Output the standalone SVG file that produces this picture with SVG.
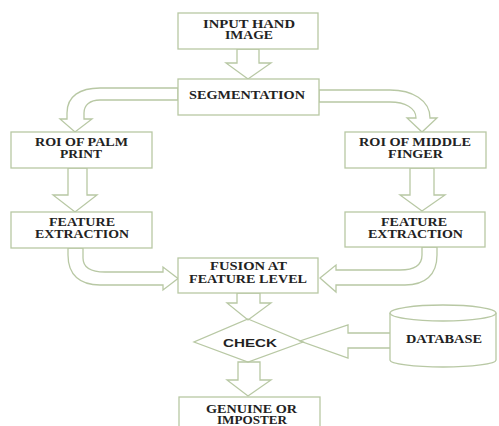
<svg xmlns="http://www.w3.org/2000/svg" width="499" height="426" viewBox="0 0 499 426">
<style>
.b{fill:#fff;stroke:#b8c8a4;stroke-width:1.3}
.a{fill:#fff;stroke:#b8c8a4;stroke-width:1.3;stroke-linejoin:miter}
.n{fill:none;stroke:#b8c8a4;stroke-width:1.3}
.t{font-family:"Liberation Serif","Times New Roman",serif;font-weight:bold;font-size:11.5px;fill:#222}
.s{font-family:"Liberation Sans",Arial,sans-serif;font-weight:bold;font-size:11px;fill:#222}
</style>
<rect width="499" height="426" fill="#fff"/>
<g id="connectors">
<polygon class="a" points="237,49 259,49 259,63 271,63 248,79 226,63 237,63"/>
<path class="a" d="M178,88 L100,88 C80,88 67,96 67,113 L67,119 L60,119 L75,132 L92,119 L84,119 L84,113 C84,105 90,100 100,100 L178,100 Z"/>
<path class="a" d="M319,90 L390,90 C412,90 430,100 430,118 L437,118 L422,132 L407,118 L416,118 C416,108 405,102 390,102 L319,102 Z"/>
<polygon class="a" points="68,168 87,168 87,195 97,195 75,212 53,195 68,195"/>
<polygon class="a" points="410,168 434,168 434,195 445,195 422,211 400,195 410,195"/>
<path class="a" d="M68,248 L68,255 C68,275 80,285 100,285 L163,285 L163,290 L178,278.5 L163,267 L163,272 L105,272 C92,272 83,268 83,258 L83,248 Z"/>
<path class="a" d="M437,247 L437,255 C437,275 425,285 405,285 L336,285 L336,292 L320,278 L336,265 L336,270 L400,270 C415,270 422,265 422,255 L422,247 Z"/>
<polygon class="n" points="237,293 260,293 260,303 271,303 248,320 227,303 237,303"/>
<polygon class="n" points="391,333 348,333 348,325 300,341 348,358 348,348 391,348"/>
<polygon class="a" points="238,362 260,362 260,380 271,380 248,396 227,380 238,380"/>
</g>
<g id="input">
<rect class="b" x="178" y="13" width="140" height="36"/>
<text class="t" x="203" y="27.5" textLength="92" lengthAdjust="spacingAndGlyphs">INPUT HAND</text>
<text class="t" x="225" y="39" textLength="48" lengthAdjust="spacingAndGlyphs">IMAGE</text>
</g>
<g id="segmentation">
<rect class="b" x="178" y="79" width="141" height="36"/>
<text class="t" x="189" y="98.5" textLength="116" lengthAdjust="spacingAndGlyphs">SEGMENTATION</text>
</g>
<g id="roi-palm">
<rect class="b" x="11" y="132" width="141" height="36"/>
<text class="t" x="35" y="145.5" textLength="93" lengthAdjust="spacingAndGlyphs">ROI OF PALM</text>
<text class="t" x="60" y="157.5" textLength="42" lengthAdjust="spacingAndGlyphs">PRINT</text>
</g>
<g id="roi-middle">
<rect class="b" x="345" y="132" width="141" height="36"/>
<text class="t" x="359" y="145.5" textLength="112" lengthAdjust="spacingAndGlyphs">ROI OF MIDDLE</text>
<text class="t" x="388" y="157.5" textLength="55" lengthAdjust="spacingAndGlyphs">FINGER</text>
</g>
<g id="feature-left">
<rect class="b" x="11" y="212" width="141" height="36"/>
<text class="t" x="49" y="226" textLength="66" lengthAdjust="spacingAndGlyphs">FEATURE</text>
<text class="t" x="35" y="238" textLength="94" lengthAdjust="spacingAndGlyphs">EXTRACTION</text>
</g>
<g id="feature-right">
<rect class="b" x="345" y="212" width="140" height="35"/>
<text class="t" x="381" y="226" textLength="66" lengthAdjust="spacingAndGlyphs">FEATURE</text>
<text class="t" x="368" y="238" textLength="95" lengthAdjust="spacingAndGlyphs">EXTRACTION</text>
</g>
<g id="fusion">
<rect class="b" x="178" y="258" width="140" height="35"/>
<text class="t" x="210" y="269.5" textLength="77" lengthAdjust="spacingAndGlyphs">FUSION AT</text>
<text class="t" x="189" y="283" textLength="118" lengthAdjust="spacingAndGlyphs">FEATURE LEVEL</text>
</g>
<g id="check">
<polygon class="n" points="248,319 303,342 248,362 194,342"/>
<text class="s" x="223" y="347" textLength="54" lengthAdjust="spacingAndGlyphs">CHECK</text>
</g>
<g id="database">
<path class="b" d="M390,313 L390,360 A53,7 0 0 0 496,360 L496,313"/>
<ellipse class="b" cx="443" cy="313" rx="53" ry="8"/>
<text class="t" x="406" y="343" textLength="76" lengthAdjust="spacingAndGlyphs">DATABASE</text>
</g>
<g id="result">
<rect class="b" x="179" y="397" width="141" height="40"/>
<text class="t" x="206" y="412.5" textLength="91" lengthAdjust="spacingAndGlyphs">GENUINE OR</text>
<text class="t" x="217" y="424" textLength="70" lengthAdjust="spacingAndGlyphs">IMPOSTER</text>
</g>
</svg>
